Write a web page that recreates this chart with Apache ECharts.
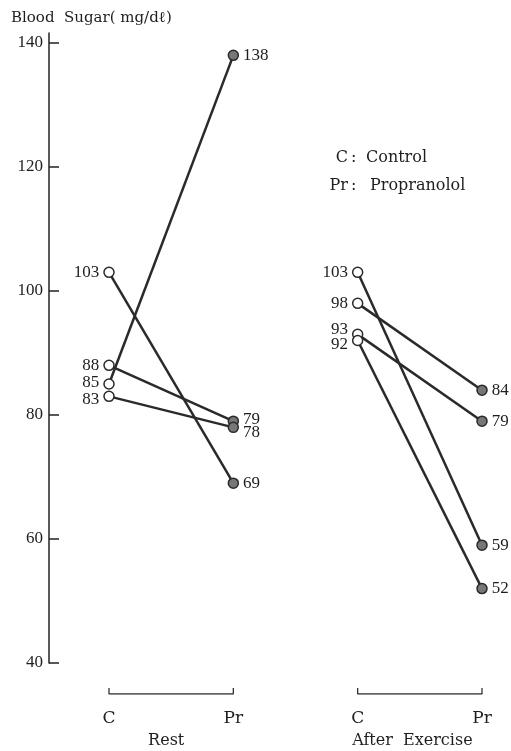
<!DOCTYPE html>
<html>
<head>
<meta charset="utf-8">
<script src="https://cdn.jsdelivr.net/npm/echarts@6/dist/echarts.min.js"></script>
<style>
  html, body { margin: 0; padding: 0; background: #fff; }
  #chart { width: 511px; height: 751px; }
</style>
</head>
<body>
<div id="chart"></div>
<script>
// Blood sugar, control (C) vs propranolol (Pr), at rest and after exercise
const groupNames = ['Rest', 'After  Exercise'];
const condLabels = ['C', 'Pr'];
const yTicks = [40, 60, 80, 100, 120, 140];

// paired subjects: control value -> propranolol value
const restC  = [103, 85, 88, 83];
const restPr = [69, 138, 79, 78];
const exerC  = [103, 98, 93, 92];
const exerPr = [59, 84, 79, 52];

// small vertical label nudges so neighbouring value labels stay readable
const restNudgeC = [0, -1, 0, 3];
const restNudgeP = [0, 0, -2, 5];
const exerNudgeC = [0, 0, -5, 4];
const exerNudgeP = [0, 0, 0, 0];

const NUM_FONT = '"Liberation Serif", serif';
const TXT_FONT = '"DejaVu Serif", "Liberation Serif", serif';
const INK = '#1e1e1e';

const openDot = { color: '#fff', borderColor: '#2a2a2a', borderWidth: 1.5 };
const fillDot = { color: '#777', borderColor: '#2a2a2a', borderWidth: 1.5 };

function pairSeries(cVals, pVals, xOffset, nudgeC, nudgeP) {
  return cVals.map((c, i) => ({
    type: 'line',
    xAxisIndex: 0,
    yAxisIndex: 0,
    symbol: 'circle',
    symbolSize: 10,
    lineStyle: { color: '#2a2a2a', width: 2.5 },
    z: 3,
    data: [
      { value: [xOffset, c], itemStyle: openDot,
        label: { show: true, position: 'left', distance: 4, offset: [0, nudgeC[i]],
                 formatter: String(c) } },
      { value: [xOffset + 1, pVals[i]], itemStyle: fillDot,
        label: { show: true, position: 'right', distance: 4, offset: [0, nudgeP[i]],
                 formatter: String(pVals[i]) } }
    ],
    label: { color: INK, fontFamily: NUM_FONT, fontSize: 17 }
  }));
}

const series = [
  ...pairSeries(restC, restPr, 0, restNudgeC, restNudgeP),
  ...pairSeries(exerC, exerPr, 2, exerNudgeC, exerNudgeP),
  // group brackets under each condition pair
  ...[0, 2].map(x0 => ({
    type: 'line',
    xAxisIndex: 1,
    yAxisIndex: 1,
    symbol: 'none',
    silent: true,
    lineStyle: { color: '#333', width: 1.3 },
    data: [[x0, 1], [x0, 0], [x0 + 1, 0], [x0 + 1, 1]]
  }))
];

const chart = echarts.init(document.getElementById('chart'));
chart.setOption({
  backgroundColor: '#fff',
  animation: false,
  title: {
    text: 'Blood  Sugar( mg/dℓ)',
    left: 6, top: 6,
    textStyle: { fontFamily: TXT_FONT, fontSize: 15, fontWeight: 'normal', color: INK }
  },
  grid: [
    { left: 109, right: 29, top: 33, bottom: 88 },
    { left: 109, right: 29, top: 688, height: 6 }
  ],
  xAxis: [
    {
      gridIndex: 0, type: 'value', min: 0, max: 3,
      axisLine: { show: false }, axisTick: { show: false },
      splitLine: { show: false }, axisLabel: { show: false }
    },
    {
      gridIndex: 1, type: 'value', min: 0, max: 3, position: 'bottom',
      axisLine: { show: false }, axisTick: { show: false }, splitLine: { show: false },
      axisLabel: {
        customValues: [0, 1, 2, 3],
        formatter: v => condLabels[Math.round(v) % 2],
        margin: 16, color: INK, fontFamily: TXT_FONT, fontSize: 17
      }
    },
    {
      gridIndex: 1, type: 'value', min: 0, max: 3, position: 'bottom',
      axisLine: { show: false }, axisTick: { show: false }, splitLine: { show: false },
      axisLabel: {
        customValues: [0.46, 2.44],
        formatter: v => groupNames[v < 1.5 ? 0 : 1],
        margin: 39, color: INK, fontFamily: TXT_FONT, fontSize: 16
      }
    }
  ],
  yAxis: [
    {
      gridIndex: 0, type: 'value', min: 40, max: 141.6, offset: 60,
      axisLine: { show: true, onZero: false, lineStyle: { color: '#222', width: 1.5 } },
      axisTick: { show: true, inside: true, length: 10, customValues: yTicks,
                  lineStyle: { color: '#222', width: 1.5 } },
      axisLabel: { customValues: yTicks, margin: 6, color: INK, fontFamily: NUM_FONT, fontSize: 17 },
      splitLine: { show: false }
    },
    {
      gridIndex: 1, type: 'value', min: 0, max: 1, show: false
    }
  ],
  graphic: [
    { type: 'text', right: 511 - 348, top: 150,
      style: { text: 'C', fill: INK, font: '16px ' + TXT_FONT } },
    { type: 'text', left: 351, top: 150,
      style: { text: ':', fill: INK, font: '16px ' + TXT_FONT } },
    { type: 'text', left: 366, top: 150,
      style: { text: 'Control', fill: INK, font: '16px ' + TXT_FONT } },
    { type: 'text', right: 511 - 348, top: 178,
      style: { text: 'Pr', fill: INK, font: '16px ' + TXT_FONT } },
    { type: 'text', left: 351, top: 178,
      style: { text: ':', fill: INK, font: '16px ' + TXT_FONT } },
    { type: 'text', left: 370, top: 178,
      style: { text: 'Propranolol', fill: INK, font: '16px ' + TXT_FONT } }
  ],
  series: series
});
</script>
</body>
</html>
